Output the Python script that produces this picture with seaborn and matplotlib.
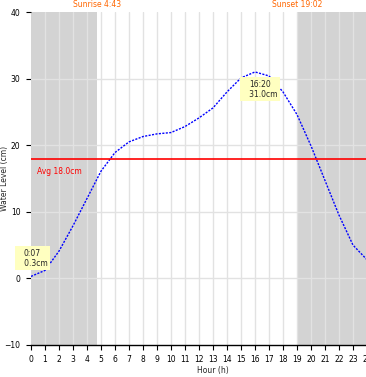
import numpy as np
import pandas as pd
import matplotlib
matplotlib.use("Agg")
import matplotlib.pyplot as plt
import seaborn as sns

# water level per hour (cm)
hours = list(range(25))
level = [0.3, 1.2, 4.1, 7.9, 12.0, 16.1, 18.9, 20.5, 21.3, 21.7, 21.9, 22.8,
         24.1, 25.6, 28.0, 30.1, 31.0, 30.4, 28.0, 24.6, 19.9, 14.7, 9.5, 5.0, 2.8]

sunrise = 4 + 43 / 60
sunset = 19 + 2 / 60
avg_level = 18.0

df = pd.DataFrame({"Hour": hours, "Level": level})

sns.set_style("white")
plt.rcParams["font.family"] = ["DejaVu Sans"]

fig = plt.figure(figsize=(3.66, 3.77), dpi=100)
ax = fig.add_axes([31 / 366, 32 / 377, 336 / 366, 333 / 377])

# night shading
ax.axvspan(0, sunrise, color="#d3d3d3", lw=0, zorder=0)
ax.axvspan(sunset, 24, color="#d3d3d3", lw=0, zorder=0)

for h in range(1, 25):
    ax.axvline(h, color="#e2e2e2", lw=1, zorder=1)
for v in [0, 10, 20, 30]:
    ax.axhline(v, color="#e2e2e2", lw=1, zorder=1)

sns.lineplot(data=df, x="Hour", y="Level", ax=ax, color="blue", lw=1,
             linestyle=(0, (1.5, 1)), zorder=3)

ax.axhline(avg_level, color="red", lw=1.2, zorder=4)
ax.text(0.45, avg_level - 1.2, "Avg 18.0cm", color="red", fontsize=5.5,
        va="top", ha="left", zorder=5)

box = dict(boxstyle="square,pad=0.3", fc="#ffffc0", ec="none")
ax.text(0.1, 3.0, "0:07\n   0.3cm", fontsize=5.5, ha="center", va="center",
        bbox=box, zorder=6, clip_on=False)
ax.text(16.36, 28.4, "16:20\n   31.0cm", fontsize=5.5, ha="center", va="center",
        bbox=box, zorder=6)

ax.text(sunrise, 41.2, "Sunrise 4:43", color="#ff6600", fontsize=5.5,
        ha="center", va="center", clip_on=False)
ax.text(sunset, 41.2, "Sunset 19:02", color="#ff6600", fontsize=5.5,
        ha="center", va="center", clip_on=False)

ax.set_xlim(0, 24)
ax.set_ylim(-10, 40)
ax.set_xticks(range(25))
ax.set_yticks(range(-10, 41, 10))
ax.tick_params(axis="both", labelsize=5.5, length=3.5, width=0.8, pad=4,
               direction="out", bottom=True, left=True, colors="black")
ax.tick_params(axis="y", pad=4)
ax.set_xlabel("Hour (h)", fontsize=5.5)
ax.xaxis.set_label_coords((213 - 31) / 336, -0.062)
ax.set_ylabel("Water Level (cm)", fontsize=5.5)
ax.yaxis.set_label_coords(-22 / 336, 0.5)

for s in ["top", "right", "left"]:
    ax.spines[s].set_visible(False)
ax.spines["bottom"].set_color("black")
ax.spines["bottom"].set_linewidth(1)

fig.savefig("out.png", dpi=100)
